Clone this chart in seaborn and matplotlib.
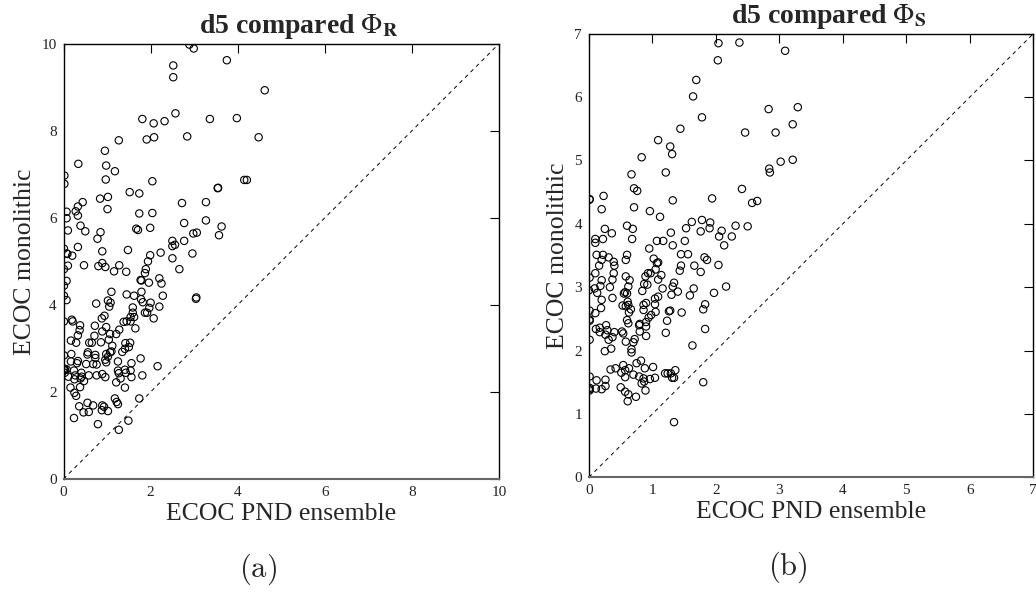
import matplotlib
matplotlib.use("Agg")
import matplotlib.pyplot as plt
import seaborn as sns
import pandas as pd

# panel (a): Phi_R
pnd_r = [2.89, 2.99, 2.52, 2.52, 3.75, 4.62, 2.57, 1.81, 2.07, 2.32,
         3.36, 3.98, 2.84, 4.48, 1.91, 2.08, 1.27, 0.95, 0.34, 0.98,
         1.18, 0.97, 2.04, 0.02, 0.02, 4.15, 4.21, 3.54, 3.55, 1.52,
         1.74, 0.84, 1.02, 0.44, 2.72, 3.27, 0.33, 0.28, 0.07, 0.33,
         1.01, 1.74, 2.04, 0.07, 0.39, 0.50, 0.10, 0.78, 0.85, 1.67,
         1.71, 1.99, 2.77, 3.27, 2.98, 3.06, 3.63, 3.57, 2.77, 2.50,
         2.50, 2.56, 0.33, 0.01, 0.07, 0.09, 0.20, 0.89, 1.48, 2.23,
         1.99, 2.96, 1.94, 2.50, 0.10, 0.01, 0.47, 0.80, 0.89, 0.96,
         1.16, 1.28, 1.44, 1.89, 1.87, 2.66, 1.77, 1.79, 1.96, 2.20,
         2.25, 0.07, 0.01, 1.10, 1.45, 1.62, 1.79, 2.28, 3.05, 0.01,
         0.07, 0.01, 0.19, 0.21, 0.75, 1.02, 1.08, 1.05, 1.78, 1.82,
         2.00, 2.20, 1.97, 1.92, 1.87, 2.07, 1.59, 1.59, 1.62, 1.54,
         1.45, 1.54, 1.38, 1.65, 1.28, 1.21, 1.07, 1.04, 1.12, 0.98,
         0.94, 0.88, 0.89, 0.72, 0.71, 0.86, 0.38, 0.37, 0.33, 0.17,
         0.29, 0.59, 0.65, 0.01, 0.18, 0.17, 0.33, 0.31, 0.52, 0.55,
         0.56, 0.73, 0.73, 0.68, 0.76, 0.98, 1.07, 1.10, 1.02, 0.98,
         0.96, 1.35, 1.41, 1.42, 1.53, 1.50, 1.25, 1.56, 1.77, 2.16,
         0.01, 0.03, 0.01, 0.07, 0.03, 0.11, 0.24, 0.27, 0.25, 0.41,
         0.42, 0.47, 0.39, 0.58, 0.76, 0.89, 0.96, 1.25, 1.27, 1.31,
         1.41, 1.43, 1.54, 1.56, 1.81, 1.21, 1.41, 0.16, 0.25, 0.29,
         0.38, 1.18, 1.22, 1.25, 1.74, 0.36, 0.55, 0.68, 0.89, 0.93,
         0.88, 0.46, 0.58, 1.02, 0.24, 0.79, 1.49, 1.27, 3.04]
mono_r = [9.98, 9.89, 9.50, 9.23, 9.62, 8.93, 8.40, 8.27, 8.17, 8.22,
          8.27, 8.29, 7.87, 7.85, 7.80, 7.85, 7.78, 7.54, 7.24, 7.20,
          7.07, 6.88, 6.84, 6.97, 6.78, 6.87, 6.87, 6.68, 6.69, 6.59,
          6.56, 6.44, 6.48, 6.36, 6.34, 6.36, 6.26, 6.15, 6.14, 6.05,
          6.20, 6.10, 6.11, 5.99, 5.82, 5.69, 5.71, 5.52, 5.67, 5.75,
          5.72, 5.77, 5.88, 5.94, 5.64, 5.66, 5.80, 5.60, 5.47, 5.47,
          5.35, 5.38, 5.33, 5.29, 5.18, 5.17, 5.13, 5.23, 5.26, 5.20,
          5.14, 5.18, 5.00, 5.07, 4.90, 4.82, 4.91, 4.89, 4.96, 4.87,
          4.77, 4.91, 4.76, 4.82, 4.73, 4.82, 4.57, 4.56, 4.51, 4.61,
          4.49, 4.55, 4.44, 4.30, 4.24, 4.21, 4.30, 4.21, 4.17, 4.21,
          4.11, 3.62, 3.66, 3.62, 4.03, 4.10, 4.05, 3.96, 4.13, 4.06,
          4.05, 3.96, 3.93, 3.82, 3.82, 3.69, 3.94, 3.82, 3.72, 3.72,
          3.62, 3.62, 3.61, 3.46, 3.43, 3.33, 3.33, 3.20, 3.06, 3.49,
          3.75, 3.69, 3.39, 3.52, 3.29, 3.14, 3.53, 3.42, 3.30, 3.18,
          3.13, 3.13, 3.13, 2.84, 2.87, 2.70, 2.71, 2.66, 2.64, 2.86,
          2.91, 2.85, 2.78, 2.64, 2.63, 2.87, 2.91, 2.93, 2.81, 2.68,
          2.74, 2.92, 2.99, 3.12, 3.13, 3.03, 2.70, 2.66, 2.77, 2.59,
          2.54, 2.52, 2.50, 2.52, 2.44, 2.35, 2.49, 2.38, 2.29, 2.44,
          2.35, 2.25, 2.31, 2.38, 2.38, 2.41, 2.34, 2.49, 2.43, 2.31,
          2.51, 2.44, 2.49, 2.34, 2.38, 2.22, 2.10, 2.10, 1.98, 1.91,
          2.11, 1.85, 1.77, 1.72, 1.85, 1.67, 1.75, 1.69, 1.69, 1.66,
          1.58, 1.53, 1.54, 1.56, 1.40, 1.26, 1.34, 1.13, 4.14]

# panel (b): Phi_S
pnd_s = [2.04, 2.37, 2.03, 3.09, 1.69, 1.64, 1.78, 2.83, 3.29, 3.21,
         1.44, 2.46, 2.94, 1.09, 1.28, 1.31, 0.83, 2.84, 2.85, 3.02,
         3.21, 1.21, 0.67, 0.71, 0.76, 2.41, 2.57, 2.65, 1.94, 1.32,
         0.01, 0.01, 0.23, 0.20, 0.71, 0.96, 1.12, 1.62, 1.78, 1.91,
         2.31, 2.50, 0.60, 0.69, 0.25, 0.36, 1.53, 1.29, 1.76, 1.90,
         2.09, 2.05, 2.25, 2.13, 0.10, 0.10, 0.22, 0.68, 1.07, 1.17,
         1.51, 1.32, 0.95, 0.12, 0.22, 0.31, 0.20, 0.16, 0.39, 0.40,
         0.60, 0.58, 1.45, 1.56, 1.82, 1.86, 1.02, 1.07, 1.09, 2.04,
         1.66, 1.45, 1.43, 1.76, 0.39, 0.10, 0.01, 0.20, 0.37, 0.64,
         0.58, 0.89, 0.93, 0.97, 1.05, 1.14, 1.09, 0.87, 0.92, 1.34,
         1.32, 0.33, 0.18, 0.09, 0.00, 0.13, 0.62, 0.57, 0.84, 1.16,
         1.40, 1.65, 1.97, 2.16, 1.59, 1.30,
         0.20, 0.19, 0.37, 0.01, 0.10, 0.01, 0.01, 0.11, 0.17, 0.17,
         0.27, 0.29, 0.26, 0.31, 0.37, 0.40, 0.01, 0.25, 0.35, 0.52,
         0.54, 0.58, 0.53, 0.58, 0.61, 0.62, 0.66, 0.63, 0.60, 0.62,
         0.55, 0.60, 0.67, 0.67, 0.70, 0.72, 0.79, 0.80, 0.80, 0.86,
         0.90, 0.86, 0.90, 0.90, 0.90, 0.94, 0.98, 1.04, 1.04, 1.09,
         1.05, 1.23, 1.26, 1.28, 1.21, 1.46, 1.83, 1.80, 1.83, 1.63,
         0.01, 0.01, 0.01, 0.01, 0.12, 0.11, 0.20, 0.26, 0.26, 0.34,
         0.42, 0.50, 0.51, 0.54, 0.57, 0.57, 0.57, 0.62, 0.61, 0.63,
         0.70, 0.74, 0.75, 0.79, 0.82, 0.83, 0.87, 0.88, 0.89, 0.86,
         0.96, 1.01, 1.04, 1.20, 1.24, 1.29, 1.31, 1.34, 1.36, 1.80,
         1.34]
mono_s = [6.85, 6.86, 6.58, 6.73, 6.27, 6.01, 5.68, 5.81, 5.84, 5.57,
          5.50, 5.44, 5.44, 5.32, 5.22, 5.10, 5.05, 4.87, 4.81, 4.98,
          5.01, 4.81, 4.78, 4.56, 4.52, 4.55, 4.33, 4.36, 4.40, 4.37,
          4.38, 4.39, 4.44, 4.23, 4.26, 4.20, 4.11, 4.03, 4.06, 4.02,
          3.97, 3.96, 3.97, 3.92, 3.92, 3.85, 3.93, 3.86, 3.88, 3.93,
          3.89, 3.80, 3.80, 3.66, 3.76, 3.70, 3.76, 3.76, 3.73, 3.73,
          3.73, 3.66, 3.61, 3.51, 3.51, 3.47, 3.43, 3.34, 3.40, 3.34,
          3.51, 3.43, 3.52, 3.52, 3.47, 3.43, 3.45, 3.38, 3.39, 3.35,
          3.34, 3.34, 3.26, 3.24, 3.22, 3.22, 3.15, 3.11, 3.12, 3.11,
          3.17, 3.17, 3.22, 3.22, 3.28, 3.19, 3.12, 3.05, 3.04, 3.07,
          3.01, 3.00, 3.02, 2.98, 2.95, 2.91, 3.01, 2.92, 2.94, 2.98,
          2.93, 2.98, 2.91, 3.01, 2.87, 2.88,
          2.80, 2.67, 2.83, 2.63, 2.59, 2.47, 2.49, 2.34, 2.36, 2.29,
          2.40, 2.32, 2.25, 2.17, 2.21, 2.29, 2.17, 1.99, 2.03, 2.30,
          2.27, 2.14, 2.71, 2.70, 2.77, 2.72, 2.65, 2.60, 2.48, 2.43,
          2.90, 2.90, 2.02, 1.97, 2.13, 2.18, 2.40, 2.42, 2.30, 2.72,
          2.75, 2.64, 2.23, 2.38, 2.45, 2.52, 2.56, 2.73, 2.82, 2.85,
          2.61, 2.47, 2.62, 2.63, 2.28, 2.60, 2.73, 2.65, 2.34, 2.08,
          1.59, 1.41, 1.39, 1.37, 1.53, 1.40, 1.39, 1.54, 1.44, 1.70,
          1.72, 1.42, 1.65, 1.77, 1.58, 1.69, 1.35, 1.31, 1.20, 1.72,
          1.62, 1.27, 1.80, 1.59, 1.84, 1.48, 1.51, 1.72, 1.37, 1.56,
          1.55, 1.74, 1.57, 1.64, 1.64, 1.64, 1.57, 1.57, 1.69, 1.50,
          0.87]

titles = [r"d5 compared $\Phi_\mathbf{R}$", r"d5 compared $\Phi_\mathbf{S}$"]
limits = [10, 7]
tick_steps = [2, 1]
panel_tags = ["(a)", "(b)"]


def draw_panel(ax, x, y, title, lim, step):
    df = pd.DataFrame({"pnd": x, "mono": y})
    ax.plot([0, lim], [0, lim], ls=(0, (4, 4)), color="black", lw=0.7)
    sns.scatterplot(data=df, x="pnd", y="mono", ax=ax, marker="o", s=28,
                    facecolor="none", edgecolor="black", linewidth=0.8)
    ax.set_xlim(0, lim)
    ax.set_ylim(0, lim)
    ax.set_xticks(range(0, lim + 1, step))
    ax.set_yticks(range(0, lim + 1, step))
    ax.tick_params(direction="in", length=6.3, width=0.8, top=True, right=True,
                   labelsize=11, labelcolor="#222222", color="black", pad=5)
    for name, sp in ax.spines.items():
        sp.set_linewidth(1.0)
        sp.set_color("black")
    ax.spines["bottom"].set_linewidth(1.5)
    ax.spines["bottom"].set_color("#666666")
    ax.set_xlabel("ECOC PND ensemble", fontsize=18.5, labelpad=3)
    ax.set_ylabel("ECOC monolithic", fontsize=18.5, labelpad=4)
    ax.set_title(title, fontsize=20, fontweight="bold", pad=7.5, x=0.54,
                 math_fontfamily="stix")


sns.set_theme()
sns.set_style("white")
plt.rcParams["font.family"] = ["Liberation Serif", "DejaVu Serif"]
plt.rcParams["mathtext.fontset"] = "stix"

fig = plt.figure(figsize=(10.36, 5.92), dpi=100)
ax1 = fig.add_axes([0.0613, 0.1909, 0.4204, 0.7353])
ax2 = fig.add_axes([0.5685, 0.1938, 0.4289, 0.7493])

draw_panel(ax1, pnd_r, mono_r, titles[0], limits[0], tick_steps[0])
draw_panel(ax2, pnd_s, mono_s, titles[1], limits[1], tick_steps[1])

fig.text(258 / 1036, 1 - 569 / 592, r"$\mathrm{(a)}$", fontsize=22,
         ha="center", va="center", math_fontfamily="cm")
fig.text(788 / 1036, 1 - 567 / 592, r"$\mathrm{(b)}$", fontsize=22,
         ha="center", va="center", math_fontfamily="cm")

fig.savefig("out.png", dpi=100)
